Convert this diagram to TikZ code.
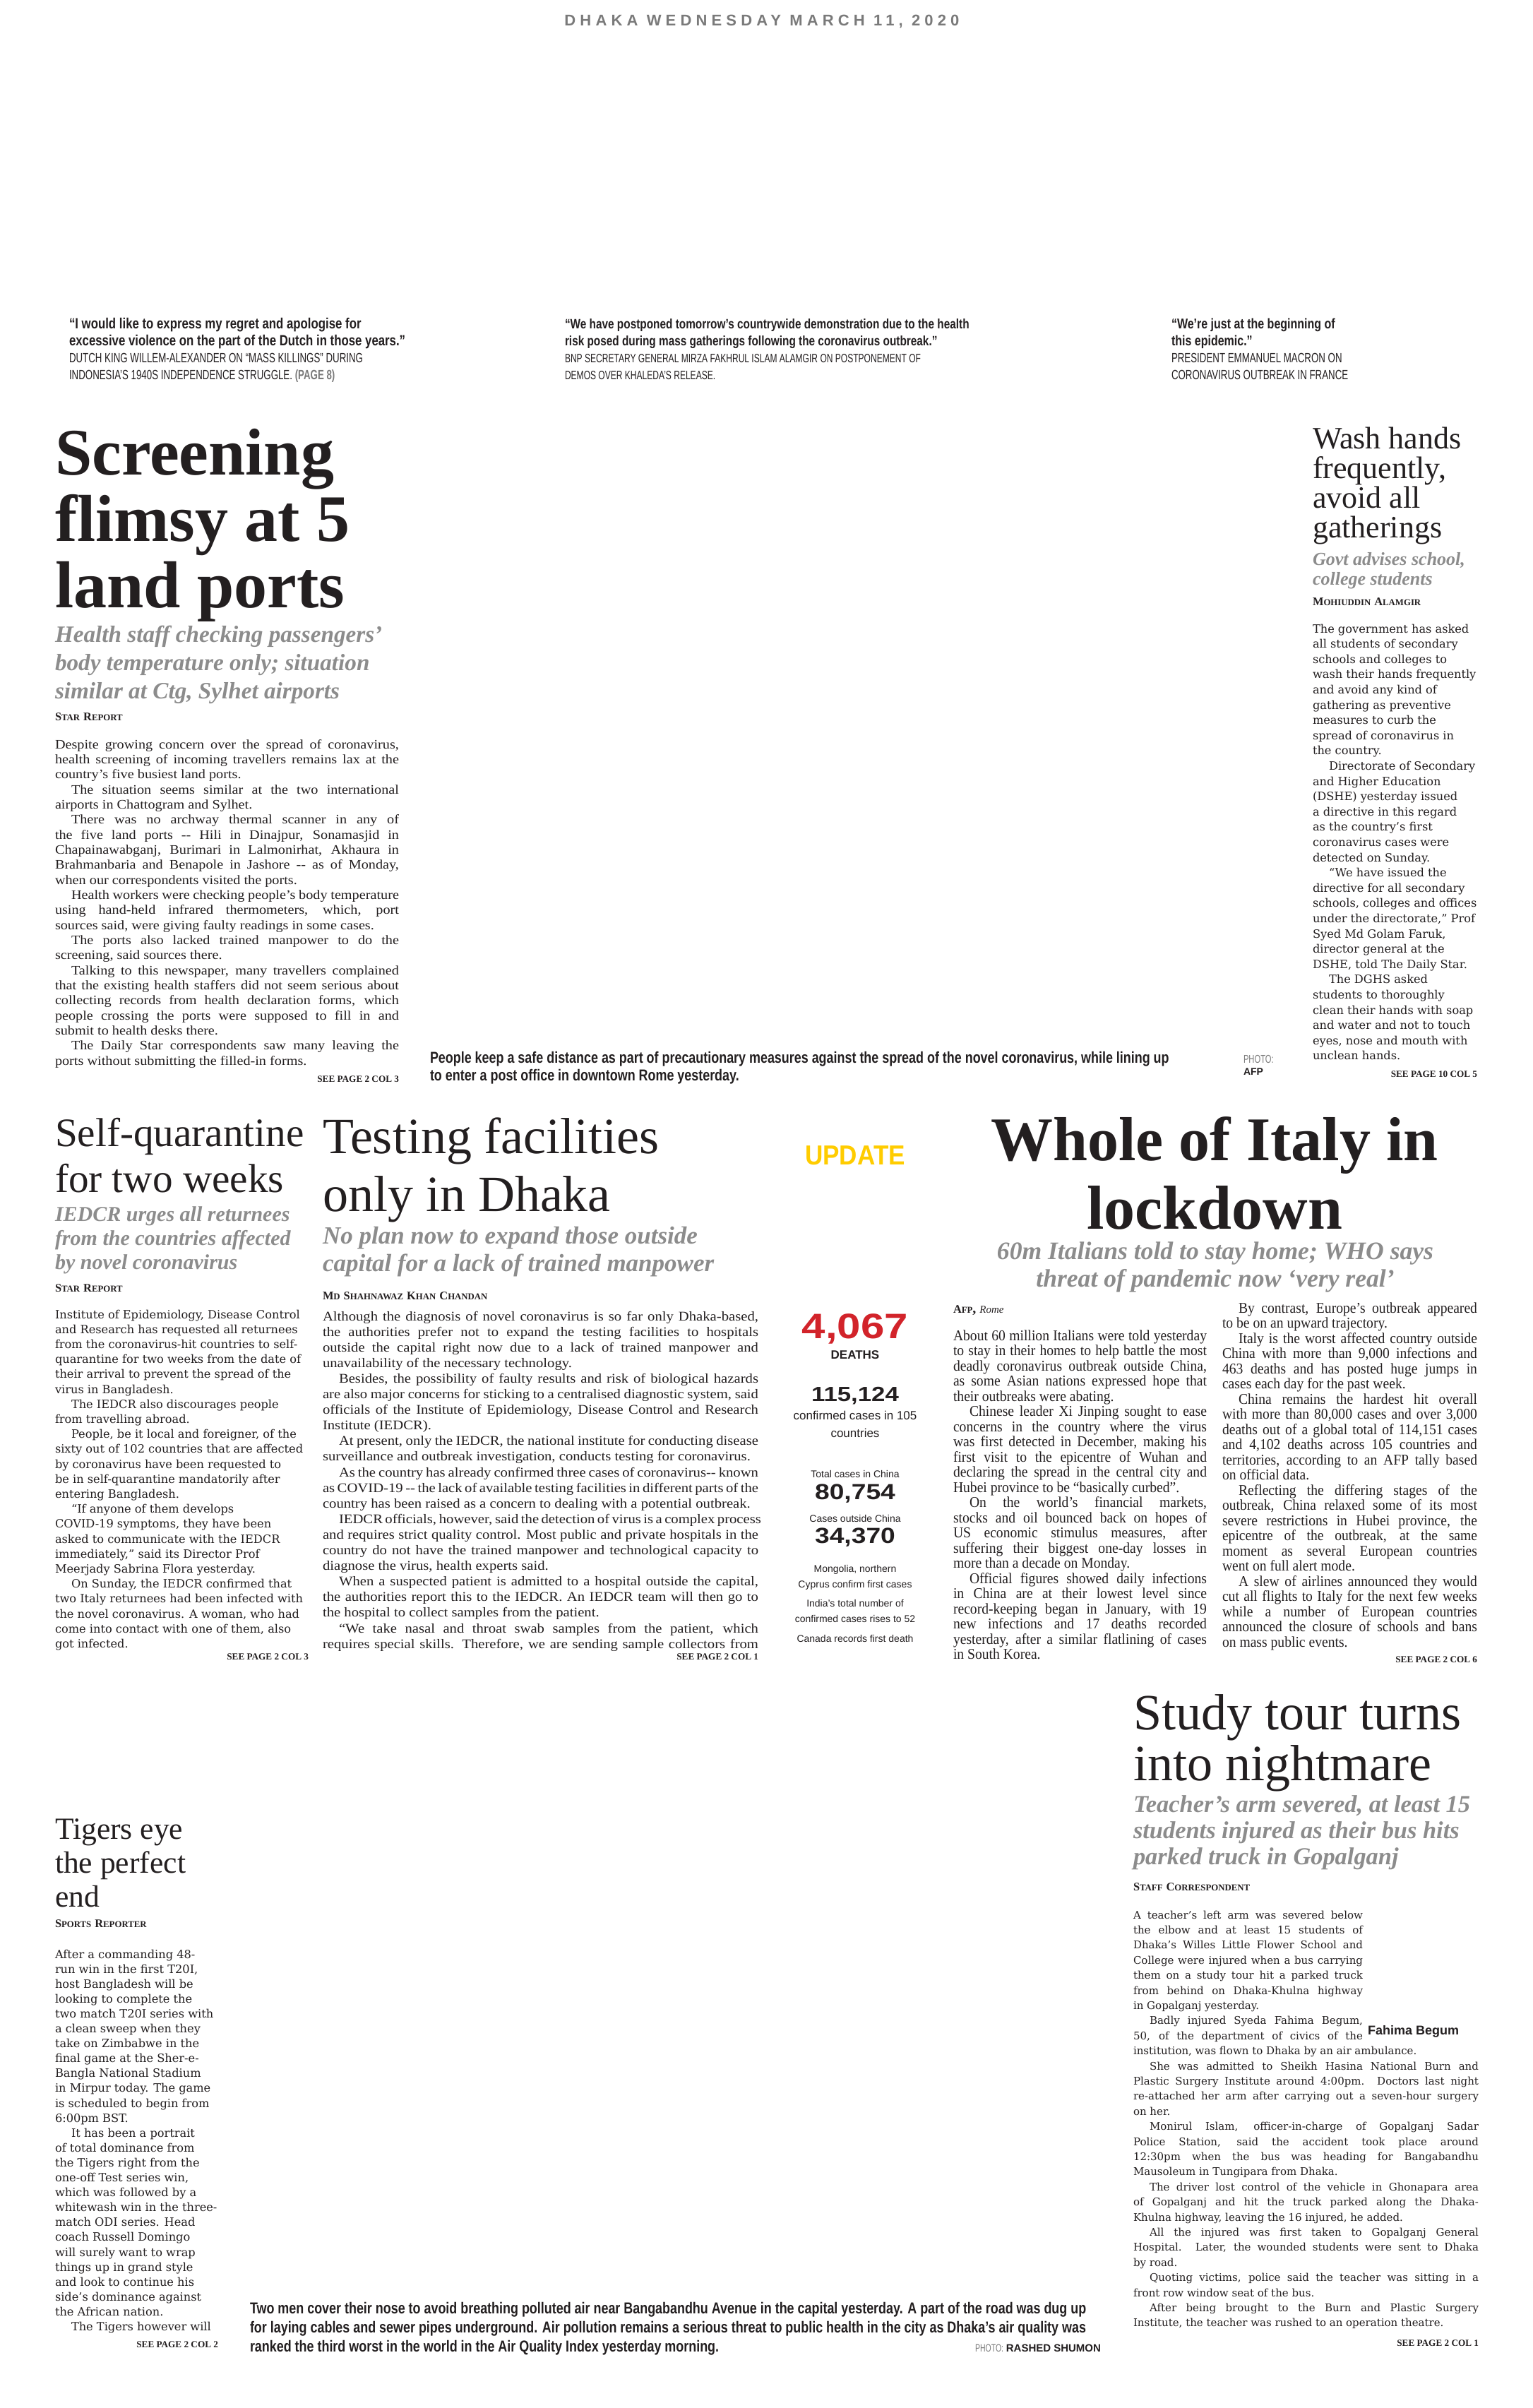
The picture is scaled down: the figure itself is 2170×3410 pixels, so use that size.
\documentclass[tikz,border=0pt]{standalone}
\usepackage{fontspec}
\setmainfont{Liberation Serif}
\newfontfamily\bodyfont[FakeStretch=1.1]{Liberation Serif}
\newfontfamily\condfont[FakeStretch=0.925]{Liberation Serif}
\newfontfamily\widefont{DejaVu Serif}
\newfontfamily\gothfont{Liberation Sans}
\newfontfamily\updfont[FakeStretch=0.9]{Liberation Sans}
\newfontfamily\capfont[FakeStretch=0.8]{Liberation Sans}
\newfontfamily\credfont[FakeStretch=0.7]{Liberation Sans}
\newfontfamily\extfont[FakeStretch=1.2]{Liberation Sans}
\newfontfamily\datefont[LetterSpace=28]{Liberation Sans}
\definecolor{ink}{HTML}{231F20}
\definecolor{inkgray}{HTML}{7A7A7A}
\definecolor{deckgray}{HTML}{8C8C8C}
\definecolor{updyellow}{HTML}{FFCC00}
\definecolor{deathred}{HTML}{D2232A}
\hbadness=10000 \hfuzz=40pt \vbadness=10000
\newcommand\setfs[2]{\fontsize{#1pt}{#2pt}\selectfont\lineskiplimit=-30pt\relax}
\newcommand\colbox[2]{\vtop{\hsize=#1\relax #2}}
\newcommand\jline[1]{\hbox to\hsize{#1}}
\newcommand\nline[1]{\hbox to 162.5pt{#1}}
\newcommand\rline[1]{\hbox{#1}}
\newcommand\mline[1]{\hbox to\hsize{\hfil #1\hfil}}
\newcommand\pind{\hskip 11.5pt\relax}
\newcommand\smcap[2]{{\setfs{8.2}{10}#1}{\setfs{6.4}{10}#2}}
\begin{document}
\begin{tikzpicture}[x=0.5pt, y=-0.5pt,
    txt/.style={inner sep=0pt, outer sep=0pt, anchor=base west, text=ink},
    ctr/.style={txt, anchor=base},
    rgt/.style={txt, anchor=base east},
    seeline/.style={rgt, font=\bfseries\setfs{6.6}{8}},
    byline/.style={txt, font=\bfseries},
    decktxt/.style={txt, text=deckgray},
    quotetxt/.style={txt, font=\capfont\bfseries\setfs{10}{12}},
    sourcetxt/.style={txt, font=\credfont\setfs{9.5}{12}},
    captxt/.style={txt, font=\capfont\bfseries\setfs{11.2}{12.5}},
    updlabel/.style={ctr, font=\gothfont\setfs{7}{8}},
    updnum/.style={ctr, font=\extfont\bfseries\setfs{15.5}{15}}]
  \fill[white] (0,0) rectangle (2170,3410);
  \useasboundingbox (0,0) rectangle (2170,3410);

  \node[ctr, text=inkgray, font=\datefont\bfseries\setfs{11}{12}] (dateline) at (1079,36) {DHAKA WEDNESDAY MARCH 11, 2020};

  \node[quotetxt, font=\capfont\bfseries\setfs{10.5}{12}] (quoteone) at (98,465) {\colbox{300pt}{\rline{“I would like to express my regret and apologise for}\rline{excessive violence on the part of the Dutch in those years.”}}};
  \node[sourcetxt] (quoteonesrc) at (98,513) {\colbox{300pt}{\rline{DUTCH KING WILLEM-ALEXANDER ON “MASS KILLINGS” DURING}\rline{INDONESIA’S 1940S INDEPENDENCE STRUGGLE. {\bfseries\color{inkgray}(PAGE 8)}}}};
  \node[quotetxt, font=\capfont\bfseries\setfs{9.6}{12}] (quotetwo) at (800,465) {\colbox{330pt}{\rline{“We have postponed tomorrow’s countrywide demonstration due to the health}\rline{risk posed during mass gatherings following the coronavirus outbreak.”}}};
  \node[sourcetxt, font=\credfont\setfs{8.6}{12}] (quotetwosrc) at (800,513) {\colbox{330pt}{\rline{BNP SECRETARY GENERAL MIRZA FAKHRUL ISLAM ALAMGIR ON POSTPONEMENT OF}\rline{DEMOS OVER KHALEDA’S RELEASE.}}};
  \node[quotetxt] (quotethree) at (1659,465) {\colbox{200pt}{\rline{“We’re just at the beginning of}\rline{this epidemic.”}}};
  \node[sourcetxt] (quotethreesrc) at (1659,513) {\colbox{200pt}{\rline{PRESIDENT EMMANUEL MACRON ON}\rline{CORONAVIRUS OUTBREAK IN FRANCE}}};

  \node[txt, font=\bfseries\setfs{47}{47}] (scrhead) at (78,672) {\colbox{260pt}{\rline{Screening}\rline{flimsy at 5}\rline{land ports}}};
  \node[decktxt, font=\bfseries\itshape\setfs{16.6}{20}] (scrdeck) at (78,909) {\colbox{260pt}{\rline{Health staff checking passengers’}\rline{body temperature only; situation}\rline{similar at Ctg, Sylhet airports}}};
  \node[byline] (scrby) at (78,1020) {\smcap{S}{TAR} \smcap{R}{EPORT}};
  \node[txt, font=\bodyfont\setfs{9.2}{10.67}] (scrbody) at (78,1060) {\colbox{243.5pt}{%
    \jline{Despite growing concern over the spread of coronavirus,}
    \jline{health screening of incoming travellers remains lax at the}
    \rline{country’s five busiest land ports.}
    \jline{\pind The situation seems similar at the two international}
    \rline{airports in Chattogram and Sylhet.}
    \jline{\pind There was no archway thermal scanner in any of}
    \jline{the five land ports -{}- Hili in Dinajpur, Sonamasjid in}
    \jline{Chapainawabganj, Burimari in Lalmonirhat, Akhaura in}
    \jline{Brahmanbaria and Benapole in Jashore -{}- as of Monday,}
    \rline{when our correspondents visited the ports.}
    \jline{\pind Health workers were checking people’s body temperature}
    \jline{using hand-held infrared thermometers, which, port}
    \rline{sources said, were giving faulty readings in some cases.}
    \jline{\pind The ports also lacked trained manpower to do the}
    \rline{screening, said sources there.}
    \jline{\pind Talking to this newspaper, many travellers complained}
    \jline{that the existing health staffers did not seem serious about}
    \jline{collecting records from health declaration forms, which}
    \jline{people crossing the ports were supposed to fill in and}
    \rline{submit to health desks there.}
    \jline{\pind The Daily Star correspondents saw many leaving the}
    \rline{ports without submitting the filled-in forms.}}};
  \node[seeline] (scrsee) at (565,1532) {SEE PAGE 2 COL 3};

  \node[captxt] (capone) at (609,1505) {\colbox{580pt}{\rline{People keep a safe distance as part of precautionary measures against the spread of the novel coronavirus, while lining up}\rline{to enter a post office in downtown Rome yesterday.}}};
  \node[txt, text=inkgray, font=\credfont\setfs{8}{8}] (caponephoto) at (1761,1505) {PHOTO:};
  \node[txt, font=\gothfont\bfseries\setfs{7}{8}] (caponeafp) at (1761,1522) {AFP};

  \node[txt, font=\setfs{22}{21}] (washhead) at (1859,635) {\colbox{130pt}{\rline{Wash hands}\rline{frequently,}\rline{avoid all}\rline{gatherings}}};
  \node[decktxt, font=\bfseries\itshape\setfs{13}{14}] (washdeck) at (1859,800) {\colbox{130pt}{\rline{Govt advises school,}\rline{college students}}};
  \node[byline] (washby) at (1859,857) {\smcap{M}{OHIUDDIN} \smcap{A}{LAMGIR}};
  \node[txt, font=\widefont\setfs{8.1}{10.8}] (washbody) at (1859,896) {\colbox{130pt}{%
    \rline{The government has asked}
    \rline{all students of secondary}
    \rline{schools and colleges to}
    \rline{wash their hands frequently}
    \rline{and avoid any kind of}
    \rline{gathering as preventive}
    \rline{measures to curb the}
    \rline{spread of coronavirus in}
    \rline{the country.}
    \rline{\pind Directorate of Secondary}
    \rline{and Higher Education}
    \rline{(DSHE) yesterday issued}
    \rline{a directive in this regard}
    \rline{as the country’s first}
    \rline{coronavirus cases were}
    \rline{detected on Sunday.}
    \rline{\pind “We have issued the}
    \rline{directive for all secondary}
    \rline{schools, colleges and offices}
    \rline{under the directorate,” Prof}
    \rline{Syed Md Golam Faruk,}
    \rline{director general at the}
    \rline{DSHE, told The Daily Star.}
    \rline{\pind The DGHS asked}
    \rline{students to thoroughly}
    \rline{clean their hands with soap}
    \rline{and water and not to touch}
    \rline{eyes, nose and mouth with}
    \rline{unclean hands.}}};
  \node[seeline] (washsee) at (2092,1525) {SEE PAGE 10 COL 5};

  \node[txt, font=\setfs{28.6}{32.5}] (selfhead) at (78,1623) {\colbox{200pt}{\rline{Self-quarantine}\rline{for two weeks}}};
  \node[decktxt, font=\bfseries\itshape\setfs{15}{17}] (selfdeck) at (78,1729) {\colbox{200pt}{\rline{IEDCR urges all returnees}\rline{from the countries affected}\rline{by novel coronavirus}}};
  \node[byline] (selfby) at (78,1829) {\smcap{S}{TAR} \smcap{R}{EPORT}};
  \node[txt, font=\widefont\setfs{8.1}{10.6}] (selfbody) at (78,1867) {\colbox{180pt}{%
    \rline{Institute of Epidemiology, Disease Control}
    \rline{and Research has requested all returnees}
    \rline{from the coronavirus-hit countries to self-}
    \rline{quarantine for two weeks from the date of}
    \rline{their arrival to prevent the spread of the}
    \rline{virus in Bangladesh.}
    \rline{\pind The IEDCR also discourages people}
    \rline{from travelling abroad.}
    \rline{\pind People, be it local and foreigner, of the}
    \rline{sixty out of 102 countries that are affected}
    \rline{by coronavirus have been requested to}
    \rline{be in self-quarantine mandatorily after}
    \rline{entering Bangladesh.}
    \rline{\pind “If anyone of them develops}
    \rline{COVID-19 symptoms, they have been}
    \rline{asked to communicate with the IEDCR}
    \rline{immediately,” said its Director Prof}
    \rline{Meerjady Sabrina Flora yesterday.}
    \rline{\pind On Sunday, the IEDCR confirmed that}
    \rline{two Italy returnees had been infected with}
    \rline{the novel coronavirus. A woman, who had}
    \rline{come into contact with one of them, also}
    \rline{got infected.}}};
  \node[seeline] (selfsee) at (437,2350) {SEE PAGE 2 COL 3};

  \node[txt, font=\setfs{36}{41}] (testhead) at (457,1633) {\colbox{300pt}{\rline{Testing facilities}\rline{only in Dhaka}}};
  \node[decktxt, font=\bfseries\itshape\setfs{17.5}{19.5}] (testdeck) at (457,1761) {\colbox{300pt}{\rline{No plan now to expand those outside}\rline{capital for a lack of trained manpower}}};
  \node[byline] (testby) at (457,1840) {\smcap{M}{D} \smcap{S}{HAHNAWAZ} \smcap{K}{HAN} \smcap{C}{HANDAN}};
  \node[txt, font=\bodyfont\setfs{9.4}{11.05}] (testbody) at (457,1870) {\colbox{308.5pt}{%
    \jline{Although the diagnosis of novel coronavirus is so far only Dhaka-based,}
    \jline{the authorities prefer not to expand the testing facilities to hospitals}
    \jline{outside the capital right now due to a lack of trained manpower and}
    \rline{unavailability of the necessary technology.}
    \jline{\pind Besides, the possibility of faulty results and risk of biological hazards}
    \jline{are also major concerns for sticking to a centralised diagnostic system, said}
    \jline{officials of the Institute of Epidemiology, Disease Control and Research}
    \rline{Institute (IEDCR).}
    \jline{\pind At present, only the IEDCR, the national institute for conducting disease}
    \rline{surveillance and outbreak investigation, conducts testing for coronavirus.}
    \jline{\pind As the country has already confirmed three cases of coronavirus-{}- known}
    \jline{as COVID-19 -{}- the lack of available testing facilities in different parts of the}
    \rline{country has been raised as a concern to dealing with a potential outbreak.}
    \jline{\pind IEDCR officials, however, said the detection of virus is a complex process}
    \jline{and requires strict quality control. Most public and private hospitals in the}
    \jline{country do not have the trained manpower and technological capacity to}
    \rline{diagnose the virus, health experts said.}
    \jline{\pind When a suspected patient is admitted to a hospital outside the capital,}
    \jline{the authorities report this to the IEDCR. An IEDCR team will then go to}
    \rline{the hospital to collect samples from the patient.}
    \jline{\pind “We take nasal and throat swab samples from the patient, which}
    \jline{requires special skills. Therefore, we are sending sample collectors from}}};
  \node[seeline] (testsee) at (1074,2350) {SEE PAGE 2 COL 1};

  \draw
    (1211,1649) node[ctr, text=updyellow, font=\updfont\bfseries\setfs{19.5}{20}] (update) {UPDATE}
    (1211,1895) node[ctr, text=deathred, font=\extfont\bfseries\setfs{25}{25}] (deathnum) {4,067}
    (1211,1924) node[ctr, font=\gothfont\bfseries\setfs{8.5}{9}] (deathlabel) {DEATHS}
    (1211,1984) node[updnum, font=\extfont\bfseries\setfs{14.5}{15}] (casenum) {115,124}
    (1211,2010) node[ctr, font=\gothfont\setfs{8.5}{9}] (caselabel) {confirmed cases in 105}
    (1211,2035) node[ctr, font=\gothfont\setfs{8.5}{9}] (caselabeltwo) {countries}
    (1211,2092) node[updlabel] (chinalabel) {Total cases in China}
    (1211,2123) node[updnum] (chinanum) {80,754}
    (1211,2155) node[updlabel] (outsidelabel) {Cases outside China}
    (1211,2185) node[updnum] (outsidenum) {34,370}
    (1211,2226) node[updlabel] (mongolia) {Mongolia, northern}
    (1211,2248) node[updlabel] (cyprus) {Cyprus confirm first cases}
    (1211,2275) node[updlabel] (india) {India’s total number of}
    (1211,2297) node[updlabel] (indiatwo) {confirmed cases rises to 52}
    (1211,2325) node[updlabel] (canada) {Canada records first death};

  \node[ctr, font=\bfseries\setfs{44}{48.5}] (italyhead) at (1720,1643) {\colbox{340pt}{\mline{Whole of Italy in}\mline{lockdown}}};
  \node[ctr, text=deckgray, font=\bfseries\itshape\setfs{17.8}{19.5}] (italydeck) at (1721,1783) {\colbox{340pt}{\mline{60m Italians told to stay home; WHO says}\mline{threat of pandemic now ‘very real’}}};
  \node[byline] (italyby) at (1350,1859) {\smcap{A}{FP}, {\mdseries\itshape\setfs{7.5}{9}Rome}};
  \node[txt, font=\condfont\setfs{10.6}{10.75}] (italyone) at (1350,1898) {\colbox{179.5pt}{%
    \jline{About 60 million Italians were told yesterday}
    \jline{to stay in their homes to help battle the most}
    \jline{deadly coronavirus outbreak outside China,}
    \jline{as some Asian nations expressed hope that}
    \rline{their outbreaks were abating.}
    \jline{\pind Chinese leader Xi Jinping sought to ease}
    \jline{concerns in the country where the virus}
    \jline{was first detected in December, making his}
    \jline{first visit to the epicentre of Wuhan and}
    \jline{declaring the spread in the central city and}
    \rline{Hubei province to be “basically curbed”.}
    \jline{\pind On the world’s financial markets,}
    \jline{stocks and oil bounced back on hopes of}
    \jline{US economic stimulus measures, after}
    \jline{suffering their biggest one-day losses in}
    \rline{more than a decade on Monday.}
    \jline{\pind Official figures showed daily infections}
    \jline{in China are at their lowest level since}
    \jline{record-keeping began in January, with 19}
    \jline{new infections and 17 deaths recorded}
    \jline{yesterday, after a similar flatlining of cases}
    \rline{in South Korea.}}};
  \node[txt, font=\condfont\setfs{10.6}{10.75}] (italytwo) at (1731,1859) {\colbox{180.5pt}{%
    \jline{\pind By contrast, Europe’s outbreak appeared}
    \rline{to be on an upward trajectory.}
    \jline{\pind Italy is the worst affected country outside}
    \jline{China with more than 9,000 infections and}
    \jline{463 deaths and has posted huge jumps in}
    \rline{cases each day for the past week.}
    \jline{\pind China remains the hardest hit overall}
    \jline{with more than 80,000 cases and over 3,000}
    \jline{deaths out of a global total of 114,151 cases}
    \jline{and 4,102 deaths across 105 countries and}
    \jline{territories, according to an AFP tally based}
    \rline{on official data.}
    \jline{\pind Reflecting the differing stages of the}
    \jline{outbreak, China relaxed some of its most}
    \jline{severe restrictions in Hubei province, the}
    \jline{epicentre of the outbreak, at the same}
    \jline{moment as several European countries}
    \rline{went on full alert mode.}
    \jline{\pind A slew of airlines announced they would}
    \jline{cut all flights to Italy for the next few weeks}
    \jline{while a number of European countries}
    \jline{announced the closure of schools and bans}
    \rline{on mass public events.}}};
  \node[seeline] (italysee) at (2092,2354) {SEE PAGE 2 COL 6};

  \node[txt, font=\setfs{36}{36}] (tourhead) at (1605,2449) {\colbox{250pt}{\rline{Study tour turns}\rline{into nightmare}}};
  \node[decktxt, font=\bfseries\itshape\setfs{17.2}{18.5}] (tourdeck) at (1605,2566) {\colbox{250pt}{\rline{Teacher’s arm severed, at least 15}\rline{students injured as their bus hits}\rline{parked truck in Gopalganj}}};
  \node[byline] (tourby) at (1605,2677) {\smcap{S}{TAFF} \smcap{C}{ORRESPONDENT}};
  \node[txt, font=\widefont\setfs{7.5}{10.7}] (tourbody) at (1605,2717) {\colbox{244.5pt}{%
    \nline{A teacher’s left arm was severed below}
    \nline{the elbow and at least 15 students of}
    \nline{Dhaka’s Willes Little Flower School and}
    \nline{College were injured when a bus carrying}
    \nline{them on a study tour hit a parked truck}
    \nline{from behind on Dhaka-Khulna highway}
    \rline{in Gopalganj yesterday.}
    \nline{\pind Badly injured Syeda Fahima Begum,}
    \nline{50, of the department of civics of the}
    \rline{institution, was flown to Dhaka by an air ambulance.}
    \jline{\pind She was admitted to Sheikh Hasina National Burn and}
    \jline{Plastic Surgery Institute around 4:00pm. Doctors last night}
    \jline{re-attached her arm after carrying out a seven-hour surgery}
    \rline{on her.}
    \jline{\pind Monirul Islam, officer-in-charge of Gopalganj Sadar}
    \jline{Police Station, said the accident took place around}
    \jline{12:30pm when the bus was heading for Bangabandhu}
    \rline{Mausoleum in Tungipara from Dhaka.}
    \jline{\pind The driver lost control of the vehicle in Ghonapara area}
    \jline{of Gopalganj and hit the truck parked along the Dhaka-}
    \rline{Khulna highway, leaving the 16 injured, he added.}
    \jline{\pind All the injured was first taken to Gopalganj General}
    \jline{Hospital. Later, the wounded students were sent to Dhaka}
    \rline{by road.}
    \jline{\pind Quoting victims, police said the teacher was sitting in a}
    \rline{front row window seat of the bus.}
    \jline{\pind After being brought to the Burn and Plastic Surgery}
    \rline{Institute, the teacher was rushed to an operation theatre.}}};
  \node[txt, font=\gothfont\bfseries\setfs{9}{10}] (fahima) at (1937,2881) {Fahima Begum};
  \node[seeline] (toursee) at (2094,3322) {SEE PAGE 2 COL 1};

  \node[txt, font=\setfs{21.8}{24}] (tigerhead) at (78,2604) {\colbox{130pt}{\rline{Tigers eye}\rline{the perfect}\rline{end}}};
  \node[byline] (tigerby) at (78,2729) {\smcap{S}{PORTS} \smcap{R}{EPORTER}};
  \node[txt, font=\widefont\setfs{8.1}{10.55}] (tigerbody) at (78,2773) {\colbox{130pt}{%
    \rline{After a commanding 48-}
    \rline{run win in the first T20I,}
    \rline{host Bangladesh will be}
    \rline{looking to complete the}
    \rline{two match T20I series with}
    \rline{a clean sweep when they}
    \rline{take on Zimbabwe in the}
    \rline{final game at the Sher-e-}
    \rline{Bangla National Stadium}
    \rline{in Mirpur today. The game}
    \rline{is scheduled to begin from}
    \rline{6:00pm BST.}
    \rline{\pind It has been a portrait}
    \rline{of total dominance from}
    \rline{the Tigers right from the}
    \rline{one-off Test series win,}
    \rline{which was followed by a}
    \rline{whitewash win in the three-}
    \rline{match ODI series. Head}
    \rline{coach Russell Domingo}
    \rline{will surely want to wrap}
    \rline{things up in grand style}
    \rline{and look to continue his}
    \rline{side’s dominance against}
    \rline{the African nation.}
    \rline{\pind The Tigers however will}}};
  \node[seeline] (tigersee) at (309,3324) {SEE PAGE 2 COL 2};

  \node[captxt, font=\capfont\bfseries\setfs{11.2}{13.5}] (captwo) at (354,3276) {\colbox{650pt}{\rline{Two men cover their nose to avoid breathing polluted air near Bangabandhu Avenue in the capital yesterday. A part of the road was dug up}\rline{for laying cables and sewer pipes underground. Air pollution remains a serious threat to public health in the city as Dhaka’s air quality was}\rline{ranked the third worst in the world in the Air Quality Index yesterday morning.}}};
  \node[rgt, font=\setfs{7.5}{8}] (captwocred) at (1559,3330) {{\credfont\color{inkgray}PHOTO:} {\gothfont\bfseries RASHED SHUMON}};
\end{tikzpicture}
\end{document}
